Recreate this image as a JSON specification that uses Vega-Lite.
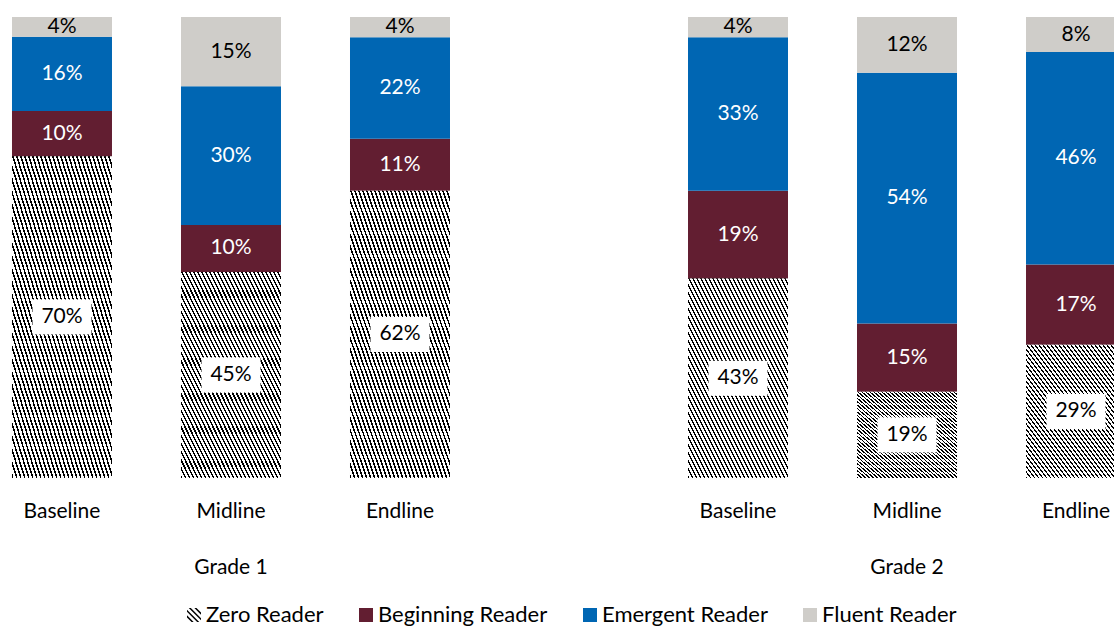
{
  "$schema": "https://vega.github.io/schema/vega-lite/v6.json",
  "width": 1114,
  "height": 461,
  "autosize": "none",
  "padding": {"left": 0, "top": 17, "right": 0, "bottom": 149},
  "background": "white",
  "config": {
    "view": {"stroke": null},
    "font": "Lato",
    "legend": {
      "orient": "none",
      "legendX": 183,
      "legendY": 587,
      "direction": "horizontal",
      "padding": 0,
      "symbolSize": 196,
      "symbolStrokeWidth": 0,
      "symbolOpacity": 1,
      "labelFont": "Lato",
      "labelFontSize": 22,
      "labelColor": "black",
      "labelLimit": 0,
      "labelOffset": 1,
      "columnPadding": 31
    }
  },
  "data": {
    "values": [
      {"bar": "Grade 1 Baseline", "reader": "Zero Reader", "level": 1, "value": 0.698},
      {"bar": "Grade 1 Baseline", "reader": "Beginning Reader", "level": 2, "value": 0.098},
      {"bar": "Grade 1 Baseline", "reader": "Emergent Reader", "level": 3, "value": 0.161},
      {"bar": "Grade 1 Baseline", "reader": "Fluent Reader", "level": 4, "value": 0.043},
      {"bar": "Grade 1 Midline", "reader": "Zero Reader", "level": 1, "value": 0.447},
      {"bar": "Grade 1 Midline", "reader": "Beginning Reader", "level": 2, "value": 0.102},
      {"bar": "Grade 1 Midline", "reader": "Emergent Reader", "level": 3, "value": 0.301},
      {"bar": "Grade 1 Midline", "reader": "Fluent Reader", "level": 4, "value": 0.150},
      {"bar": "Grade 1 Endline", "reader": "Zero Reader", "level": 1, "value": 0.623},
      {"bar": "Grade 1 Endline", "reader": "Beginning Reader", "level": 2, "value": 0.113},
      {"bar": "Grade 1 Endline", "reader": "Emergent Reader", "level": 3, "value": 0.220},
      {"bar": "Grade 1 Endline", "reader": "Fluent Reader", "level": 4, "value": 0.044},
      {"bar": "Grade 2 Baseline", "reader": "Zero Reader", "level": 1, "value": 0.433},
      {"bar": "Grade 2 Baseline", "reader": "Beginning Reader", "level": 2, "value": 0.190},
      {"bar": "Grade 2 Baseline", "reader": "Emergent Reader", "level": 3, "value": 0.333},
      {"bar": "Grade 2 Baseline", "reader": "Fluent Reader", "level": 4, "value": 0.044},
      {"bar": "Grade 2 Midline", "reader": "Zero Reader", "level": 1, "value": 0.187},
      {"bar": "Grade 2 Midline", "reader": "Beginning Reader", "level": 2, "value": 0.148},
      {"bar": "Grade 2 Midline", "reader": "Emergent Reader", "level": 3, "value": 0.544},
      {"bar": "Grade 2 Midline", "reader": "Fluent Reader", "level": 4, "value": 0.121},
      {"bar": "Grade 2 Endline", "reader": "Zero Reader", "level": 1, "value": 0.289},
      {"bar": "Grade 2 Endline", "reader": "Beginning Reader", "level": 2, "value": 0.174},
      {"bar": "Grade 2 Endline", "reader": "Emergent Reader", "level": 3, "value": 0.461},
      {"bar": "Grade 2 Endline", "reader": "Fluent Reader", "level": 4, "value": 0.076}
    ]
  },
  "encoding": {
    "x": {
      "field": "bar",
      "type": "nominal",
      "title": null,
      "scale": {
        "domain": ["Grade 1 Baseline", "Grade 1 Midline", "Grade 1 Endline", " ", "Grade 2 Baseline", "Grade 2 Midline", "Grade 2 Endline"],
        "range": [-22.5, 1160.5],
        "paddingInner": 0.4083,
        "paddingOuter": 0.2041
      },
      "axis": {
        "domain": false,
        "ticks": false,
        "grid": false,
        "labelAngle": 0,
        "labelFont": "Lato",
        "labelFontSize": 21,
        "labelColor": "black",
        "labelPadding": 22,
        "labelLineHeight": 56.6,
        "labelOverlap": false,
        "labelExpr": "datum.value === ' ' ? '' : (split(datum.value, ' ')[2] === 'Midline' ? ['Midline', split(datum.value, ' ')[0] + ' ' + split(datum.value, ' ')[1]] : split(datum.value, ' ')[2])"
      }
    }
  },
  "layer": [
    {
      "mark": {"type": "bar", "strokeWidth": 0},
      "encoding": {
        "y": {"field": "value", "type": "quantitative", "stack": "zero", "scale": {"domain": [0, 1], "nice": false}, "axis": null},
        "color": {
          "field": "reader",
          "type": "nominal",
          "scale": {
            "domain": ["Zero Reader", "Beginning Reader", "Emergent Reader", "Fluent Reader"],
            "range": ["#000000", "#621E31", "#0066B3", "#CFCDC9"]
          },
          "legend": {"title": null}
        },
        "order": {"field": "level", "type": "quantitative"}
      }
    },
    {
      "transform": [{"filter": "datum.reader === 'Zero Reader'"}],
      "mark": {
        "type": "bar",
        "strokeWidth": 0,
        "fill": {
          "gradient": "linear", "x1": 0, "y1": 1, "x2": 1, "y2": 0,
          "stops": [
            {"offset": 0, "color": "#000"}, {"offset": 0.008, "color": "#000"}, {"offset": 0.008, "color": "#fff"}, {"offset": 0.02, "color": "#fff"},
            {"offset": 0.02, "color": "#000"}, {"offset": 0.028, "color": "#000"}, {"offset": 0.028, "color": "#fff"}, {"offset": 0.04, "color": "#fff"},
            {"offset": 0.04, "color": "#000"}, {"offset": 0.048, "color": "#000"}, {"offset": 0.048, "color": "#fff"}, {"offset": 0.06, "color": "#fff"},
            {"offset": 0.06, "color": "#000"}, {"offset": 0.068, "color": "#000"}, {"offset": 0.068, "color": "#fff"}, {"offset": 0.08, "color": "#fff"},
            {"offset": 0.08, "color": "#000"}, {"offset": 0.088, "color": "#000"}, {"offset": 0.088, "color": "#fff"}, {"offset": 0.10, "color": "#fff"},
            {"offset": 0.10, "color": "#000"}, {"offset": 0.108, "color": "#000"}, {"offset": 0.108, "color": "#fff"}, {"offset": 0.12, "color": "#fff"},
            {"offset": 0.12, "color": "#000"}, {"offset": 0.128, "color": "#000"}, {"offset": 0.128, "color": "#fff"}, {"offset": 0.14, "color": "#fff"},
            {"offset": 0.14, "color": "#000"}, {"offset": 0.148, "color": "#000"}, {"offset": 0.148, "color": "#fff"}, {"offset": 0.16, "color": "#fff"},
            {"offset": 0.16, "color": "#000"}, {"offset": 0.168, "color": "#000"}, {"offset": 0.168, "color": "#fff"}, {"offset": 0.18, "color": "#fff"},
            {"offset": 0.18, "color": "#000"}, {"offset": 0.188, "color": "#000"}, {"offset": 0.188, "color": "#fff"}, {"offset": 0.20, "color": "#fff"},
            {"offset": 0.20, "color": "#000"}, {"offset": 0.208, "color": "#000"}, {"offset": 0.208, "color": "#fff"}, {"offset": 0.22, "color": "#fff"},
            {"offset": 0.22, "color": "#000"}, {"offset": 0.228, "color": "#000"}, {"offset": 0.228, "color": "#fff"}, {"offset": 0.24, "color": "#fff"},
            {"offset": 0.24, "color": "#000"}, {"offset": 0.248, "color": "#000"}, {"offset": 0.248, "color": "#fff"}, {"offset": 0.26, "color": "#fff"},
            {"offset": 0.26, "color": "#000"}, {"offset": 0.268, "color": "#000"}, {"offset": 0.268, "color": "#fff"}, {"offset": 0.28, "color": "#fff"},
            {"offset": 0.28, "color": "#000"}, {"offset": 0.288, "color": "#000"}, {"offset": 0.288, "color": "#fff"}, {"offset": 0.30, "color": "#fff"},
            {"offset": 0.30, "color": "#000"}, {"offset": 0.308, "color": "#000"}, {"offset": 0.308, "color": "#fff"}, {"offset": 0.32, "color": "#fff"},
            {"offset": 0.32, "color": "#000"}, {"offset": 0.328, "color": "#000"}, {"offset": 0.328, "color": "#fff"}, {"offset": 0.34, "color": "#fff"},
            {"offset": 0.34, "color": "#000"}, {"offset": 0.348, "color": "#000"}, {"offset": 0.348, "color": "#fff"}, {"offset": 0.36, "color": "#fff"},
            {"offset": 0.36, "color": "#000"}, {"offset": 0.368, "color": "#000"}, {"offset": 0.368, "color": "#fff"}, {"offset": 0.38, "color": "#fff"},
            {"offset": 0.38, "color": "#000"}, {"offset": 0.388, "color": "#000"}, {"offset": 0.388, "color": "#fff"}, {"offset": 0.40, "color": "#fff"},
            {"offset": 0.40, "color": "#000"}, {"offset": 0.408, "color": "#000"}, {"offset": 0.408, "color": "#fff"}, {"offset": 0.42, "color": "#fff"},
            {"offset": 0.42, "color": "#000"}, {"offset": 0.428, "color": "#000"}, {"offset": 0.428, "color": "#fff"}, {"offset": 0.44, "color": "#fff"},
            {"offset": 0.44, "color": "#000"}, {"offset": 0.448, "color": "#000"}, {"offset": 0.448, "color": "#fff"}, {"offset": 0.46, "color": "#fff"},
            {"offset": 0.46, "color": "#000"}, {"offset": 0.468, "color": "#000"}, {"offset": 0.468, "color": "#fff"}, {"offset": 0.48, "color": "#fff"},
            {"offset": 0.48, "color": "#000"}, {"offset": 0.488, "color": "#000"}, {"offset": 0.488, "color": "#fff"}, {"offset": 0.50, "color": "#fff"},
            {"offset": 0.50, "color": "#000"}, {"offset": 0.508, "color": "#000"}, {"offset": 0.508, "color": "#fff"}, {"offset": 0.52, "color": "#fff"},
            {"offset": 0.52, "color": "#000"}, {"offset": 0.528, "color": "#000"}, {"offset": 0.528, "color": "#fff"}, {"offset": 0.54, "color": "#fff"},
            {"offset": 0.54, "color": "#000"}, {"offset": 0.548, "color": "#000"}, {"offset": 0.548, "color": "#fff"}, {"offset": 0.56, "color": "#fff"},
            {"offset": 0.56, "color": "#000"}, {"offset": 0.568, "color": "#000"}, {"offset": 0.568, "color": "#fff"}, {"offset": 0.58, "color": "#fff"},
            {"offset": 0.58, "color": "#000"}, {"offset": 0.588, "color": "#000"}, {"offset": 0.588, "color": "#fff"}, {"offset": 0.60, "color": "#fff"},
            {"offset": 0.60, "color": "#000"}, {"offset": 0.608, "color": "#000"}, {"offset": 0.608, "color": "#fff"}, {"offset": 0.62, "color": "#fff"},
            {"offset": 0.62, "color": "#000"}, {"offset": 0.628, "color": "#000"}, {"offset": 0.628, "color": "#fff"}, {"offset": 0.64, "color": "#fff"},
            {"offset": 0.64, "color": "#000"}, {"offset": 0.648, "color": "#000"}, {"offset": 0.648, "color": "#fff"}, {"offset": 0.66, "color": "#fff"},
            {"offset": 0.66, "color": "#000"}, {"offset": 0.668, "color": "#000"}, {"offset": 0.668, "color": "#fff"}, {"offset": 0.68, "color": "#fff"},
            {"offset": 0.68, "color": "#000"}, {"offset": 0.688, "color": "#000"}, {"offset": 0.688, "color": "#fff"}, {"offset": 0.70, "color": "#fff"},
            {"offset": 0.70, "color": "#000"}, {"offset": 0.708, "color": "#000"}, {"offset": 0.708, "color": "#fff"}, {"offset": 0.72, "color": "#fff"},
            {"offset": 0.72, "color": "#000"}, {"offset": 0.728, "color": "#000"}, {"offset": 0.728, "color": "#fff"}, {"offset": 0.74, "color": "#fff"},
            {"offset": 0.74, "color": "#000"}, {"offset": 0.748, "color": "#000"}, {"offset": 0.748, "color": "#fff"}, {"offset": 0.76, "color": "#fff"},
            {"offset": 0.76, "color": "#000"}, {"offset": 0.768, "color": "#000"}, {"offset": 0.768, "color": "#fff"}, {"offset": 0.78, "color": "#fff"},
            {"offset": 0.78, "color": "#000"}, {"offset": 0.788, "color": "#000"}, {"offset": 0.788, "color": "#fff"}, {"offset": 0.80, "color": "#fff"},
            {"offset": 0.80, "color": "#000"}, {"offset": 0.808, "color": "#000"}, {"offset": 0.808, "color": "#fff"}, {"offset": 0.82, "color": "#fff"},
            {"offset": 0.82, "color": "#000"}, {"offset": 0.828, "color": "#000"}, {"offset": 0.828, "color": "#fff"}, {"offset": 0.84, "color": "#fff"},
            {"offset": 0.84, "color": "#000"}, {"offset": 0.848, "color": "#000"}, {"offset": 0.848, "color": "#fff"}, {"offset": 0.86, "color": "#fff"},
            {"offset": 0.86, "color": "#000"}, {"offset": 0.868, "color": "#000"}, {"offset": 0.868, "color": "#fff"}, {"offset": 0.88, "color": "#fff"},
            {"offset": 0.88, "color": "#000"}, {"offset": 0.888, "color": "#000"}, {"offset": 0.888, "color": "#fff"}, {"offset": 0.90, "color": "#fff"},
            {"offset": 0.90, "color": "#000"}, {"offset": 0.908, "color": "#000"}, {"offset": 0.908, "color": "#fff"}, {"offset": 0.92, "color": "#fff"},
            {"offset": 0.92, "color": "#000"}, {"offset": 0.928, "color": "#000"}, {"offset": 0.928, "color": "#fff"}, {"offset": 0.94, "color": "#fff"},
            {"offset": 0.94, "color": "#000"}, {"offset": 0.948, "color": "#000"}, {"offset": 0.948, "color": "#fff"}, {"offset": 0.96, "color": "#fff"},
            {"offset": 0.96, "color": "#000"}, {"offset": 0.968, "color": "#000"}, {"offset": 0.968, "color": "#fff"}, {"offset": 0.98, "color": "#fff"},
            {"offset": 0.98, "color": "#000"}, {"offset": 0.988, "color": "#000"}, {"offset": 0.988, "color": "#fff"}, {"offset": 1, "color": "#fff"}
          ]
        }
      },
      "encoding": {
        "y": {"field": "value", "type": "quantitative", "stack": null}
      }
    },
    {
      "mark": {"type": "point", "filled": true, "opacity": 0, "strokeWidth": 0},
      "encoding": {
        "y": {"field": "value", "type": "quantitative", "stack": null},
        "shape": {
          "field": "reader",
          "type": "nominal",
          "scale": {
            "domain": ["Zero Reader", "Beginning Reader", "Emergent Reader", "Fluent Reader"],
            "range": ["M-1,0.05L-1,0.35L-0.35,1L-0.05,1ZM-1,-0.75L-1,-0.45L0.45,1L0.75,1ZM-0.75,-1L-0.45,-1L1,0.45L1,0.75ZM0.05,-1L0.35,-1L1,-0.35L1,-0.05Z", "square", "square", "square"]
          },
          "legend": {"title": null}
        }
      }
    },
    {
      "transform": [
        {"stack": "value", "groupby": ["bar"], "sort": [{"field": "level", "order": "ascending"}], "as": ["v0", "v1"]},
        {"fold": ["v0", "v1"], "as": ["edge", "pos"]},
        {"aggregate": [{"op": "mean", "field": "pos", "as": "mid"}], "groupby": ["bar", "reader", "value"]}
      ],
      "layer": [
        {
          "transform": [{"filter": "datum.reader === 'Zero Reader'"}],
          "mark": {"type": "point", "shape": "M-1,-0.593H1V0.593H-1Z", "size": 3481, "filled": true, "fill": "white", "opacity": 1, "strokeWidth": 0},
          "encoding": {"y": {"field": "mid", "type": "quantitative"}}
        },
        {
          "mark": {"type": "text", "font": "Lato", "fontSize": 21, "baseline": "middle", "align": "center"},
          "encoding": {
            "y": {"field": "mid", "type": "quantitative"},
            "text": {"field": "value", "type": "quantitative", "format": ".0%"},
            "color": {
              "condition": {"test": "datum.reader === 'Beginning Reader' || datum.reader === 'Emergent Reader'", "value": "white"},
              "value": "black"
            }
          }
        }
      ]
    }
  ]
}
